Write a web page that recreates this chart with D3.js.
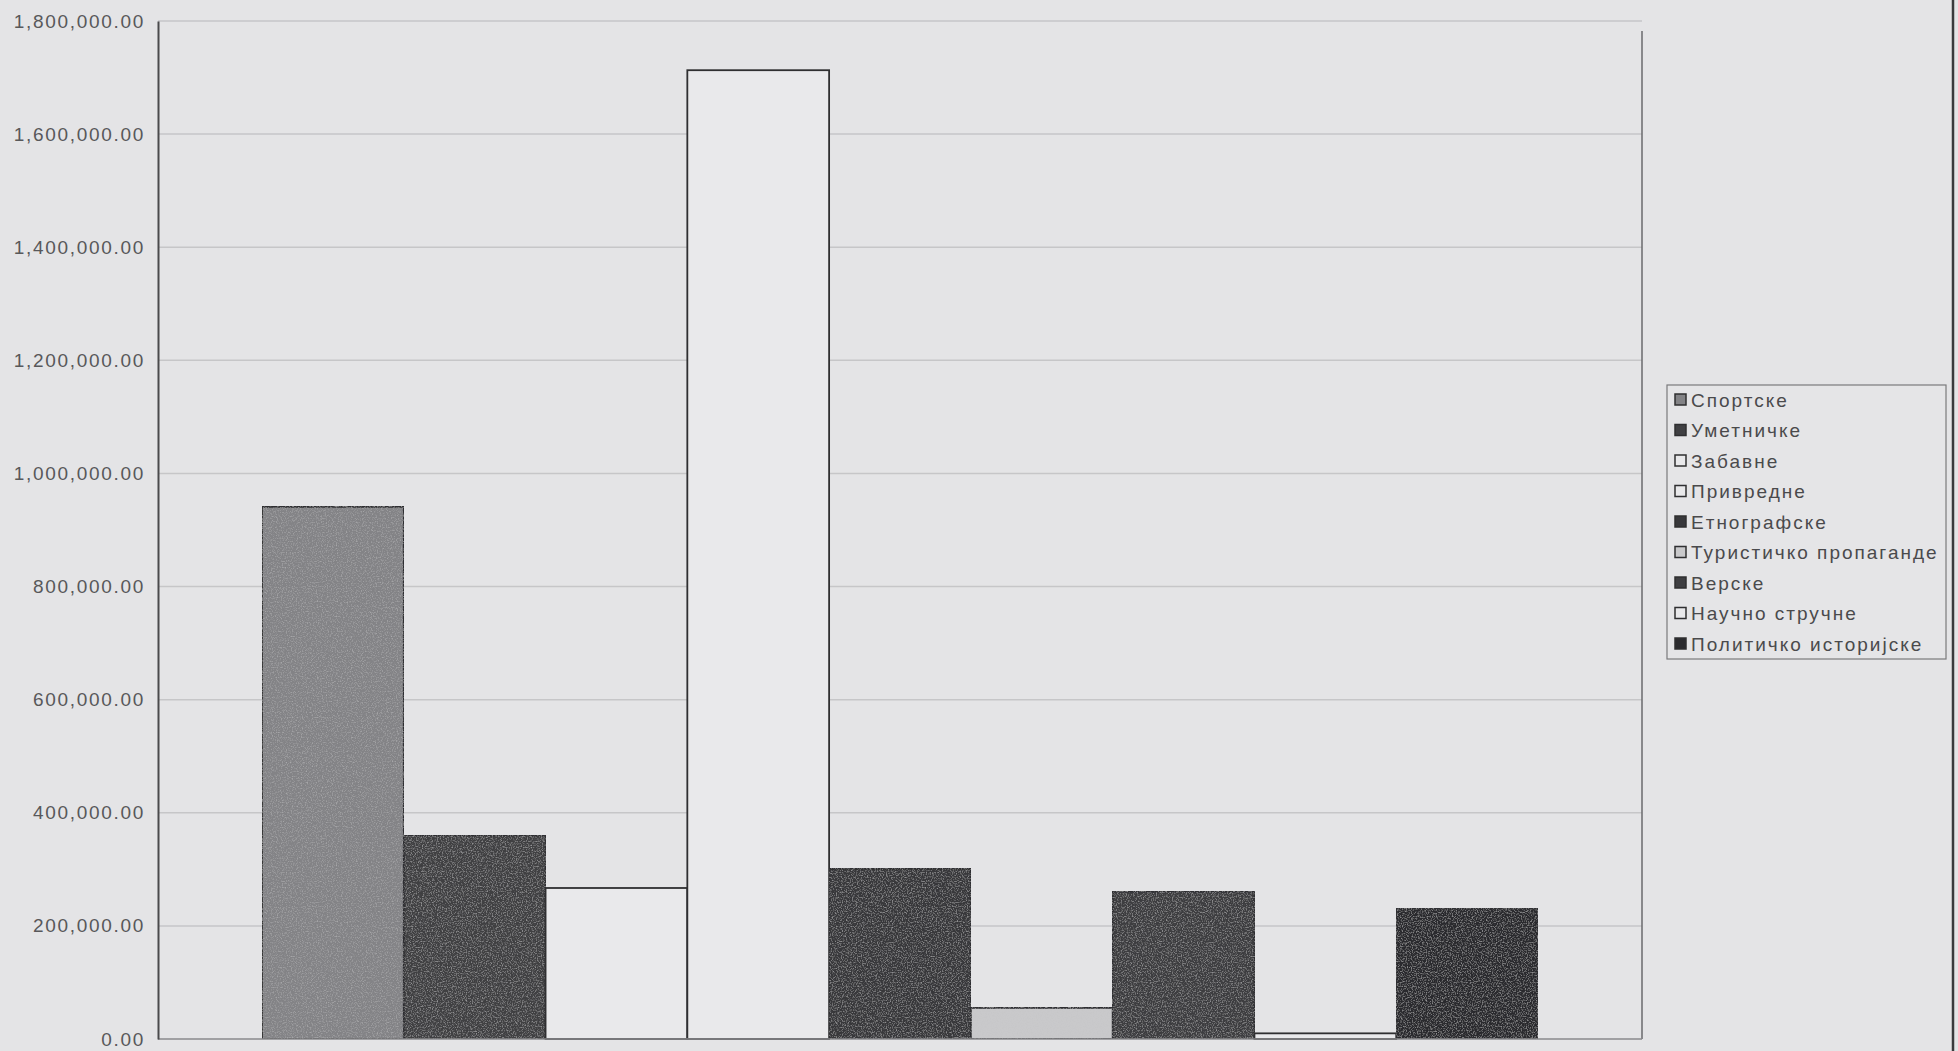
<!DOCTYPE html>
<html>
<head>
<meta charset="utf-8">
<script src="https://cdn.jsdelivr.net/npm/d3@7"></script>
<style>
  html, body { margin: 0; padding: 0; background: #e4e4e6; }
  svg { display: block; }
  text { font-family: "Liberation Sans", Arial, sans-serif; }
</style>
</head>
<body>
<svg id="chart" width="1958" height="1051"></svg>
<script>
// ---- data ----
const series = ["Спортске", "Уметничке", "Забавне", "Привредне", "Етнографске",
  "Туристичко пропаганде", "Верске", "Научно стручне", "Политичко историјске"];
const values = [941000, 360000, 267000, 1713000, 301000, 55000, 261000, 10000, 230000];
const yTicks = [0, 200000, 400000, 600000, 800000, 1000000, 1200000, 1400000, 1600000, 1800000];
const fills = ["#838386", "#404043", "#e9e9eb", "#e9e9eb", "#38383b", "#c9c9cb", "#3e3e41", "#e9e9eb", "#2b2b2e"];
const textured = [true, true, false, false, true, true, true, false, true];

const svg = d3.select("#chart");
const W = 1958, H = 1051;

// noise texture filter
const defs = svg.append("defs");
const f = defs.append("filter").attr("id", "grain").attr("x", 0).attr("y", 0).attr("width", 1).attr("height", 1);
f.append("feTurbulence").attr("type", "fractalNoise").attr("baseFrequency", 0.8).attr("numOctaves", 2).attr("seed", 3).attr("result", "noise");
f.append("feColorMatrix").attr("in", "noise").attr("type", "matrix")
  .attr("values", "0 0 0 0 0.55  0 0 0 0 0.55  0 0 0 0 0.56  0 0 0 1.3 -0.62").attr("result", "dots");
f.append("feComposite").attr("in", "dots").attr("in2", "SourceGraphic").attr("operator", "in").attr("result", "dotsIn");
const fm = f.append("feMerge");
fm.append("feMergeNode").attr("in", "SourceGraphic");
fm.append("feMergeNode").attr("in", "dotsIn");

const plot = { left: 158, right: 1642, top: 21, bottom: 1039 };

const y = d3.scaleLinear().domain([0, 1800000]).range([plot.bottom, plot.top]);
const x = d3.scaleBand().domain(series).range([262, 1538]).paddingInner(0).paddingOuter(0);

// gridlines
svg.append("g")
  .selectAll("line").data(yTicks.filter(d => d > 0)).join("line")
  .attr("x1", plot.left).attr("x2", plot.right)
  .attr("y1", d => y(d)).attr("y2", d => y(d))
  .attr("stroke", "#c6c6c8").attr("stroke-width", 1.5);

// right border of plot
svg.append("line").attr("x1", plot.right).attr("x2", plot.right)
  .attr("y1", plot.top + 10).attr("y2", plot.bottom)
  .attr("stroke", "#6a6a6c").attr("stroke-width", 1.5);

// bars
svg.append("g").selectAll("rect").data(series).join("rect")
  .attr("x", d => x(d))
  .attr("y", (d, i) => y(values[i]))
  .attr("width", x.bandwidth())
  .attr("height", (d, i) => y(0) - y(values[i]))
  .attr("fill", (d, i) => fills[i])
  .attr("filter", (d, i) => textured[i] ? "url(#grain)" : null)
  .attr("stroke", "#2f2f31").attr("stroke-width", 1.8);

// baseline
svg.append("line").attr("x1", plot.left).attr("x2", plot.right)
  .attr("y1", y(0)).attr("y2", y(0))
  .attr("stroke", "#8a8a8c").attr("stroke-width", 1.5);

// y axis
const yAxis = d3.axisLeft(y).tickValues(yTicks).tickFormat(d3.format(",.2f")).tickSize(0).tickPadding(13);
const ga = svg.append("g").attr("transform", `translate(${plot.left},0)`).call(yAxis);
ga.select(".domain").attr("stroke", "#4a4a4c").attr("stroke-width", 2);
ga.selectAll("text").attr("fill", "#58585a").attr("font-size", 19).attr("letter-spacing", 1.7)
  .style("font-family", "'Liberation Sans', Arial, sans-serif");

// legend
const lg = svg.append("g").attr("transform", "translate(1667,385)");
lg.append("rect").attr("width", 279).attr("height", 274)
  .attr("fill", "#e5e5e7").attr("stroke", "#7a7a7c").attr("stroke-width", 1.2);
const items = lg.selectAll("g.item").data(series).join("g").attr("class", "item")
  .attr("transform", (d, i) => `translate(8, ${15 + i * 30.5})`);
items.append("rect").attr("x", 0).attr("y", -6).attr("width", 11).attr("height", 11)
  .attr("fill", (d, i) => fills[i]).attr("stroke", "#2f2f31").attr("stroke-width", 1.5);
items.append("text").attr("x", 16).attr("y", 0).attr("dy", "0.36em")
  .attr("font-size", 19).attr("letter-spacing", 2).attr("fill", "#4a4a4c").text(d => d);

// right frame edge
svg.append("line").attr("x1", 1953).attr("x2", 1953).attr("y1", 0).attr("y2", H)
  .attr("stroke", "#3a3a3c").attr("stroke-width", 2.5);
</script>
</body>
</html>
